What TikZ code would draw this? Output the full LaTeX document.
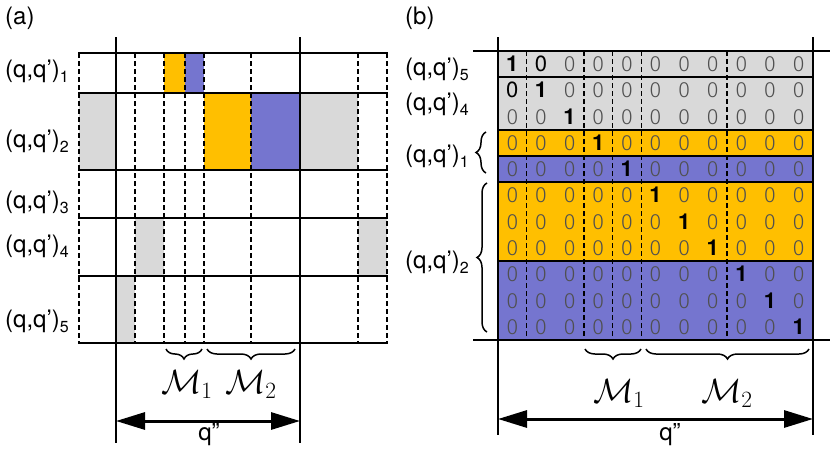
\documentclass[tikz,border=0pt]{standalone}
\usepackage{graphicx}
\usepackage{fontspec}
\setmainfont{TeX Gyre Heros}
\IfFontExistsTF{Fira Sans Light}{\newfontfamily\zfont{Fira Sans Light}}{\newfontfamily\zfont{TeX Gyre Heros}}
\usetikzlibrary{arrows.meta,decorations.pathreplacing}
\definecolor{orng}{RGB}{255,191,0}
\definecolor{purp}{RGB}{117,117,207}
\definecolor{lgray}{RGB}{217,217,217}
\definecolor{zgray}{RGB}{80,80,80}
\newcommand\sbs[1]{\raisebox{-5pt}{\fontsize{16}{18}\selectfont #1}}
\newcommand\mlab[1]{\scalebox{1.35}{$\mathcal{M}_{#1}$}}
\tikzset{
  thickline/.style={line width=2.6pt},
  rowline/.style={line width=2.2pt},
  rowlineb/.style={line width=2pt},
  dashline/.style={line width=1.3pt, dash pattern=on 5pt off 3pt},
  lbl/.style={font=\fontsize{24}{28}\selectfont, inner sep=0pt, anchor=base west},
  mlbl/.style={font=\fontsize{24}{28}\selectfont, inner sep=0pt, anchor=base},
  brc/.style={decorate, decoration={brace, amplitude=10pt}, line width=1.5pt},
  dimarrow/.style={line width=3pt, {Triangle[length=29pt,width=17pt]}-{Triangle[length=29pt,width=17pt]}},
  dig/.style={font=\fontsize{22}{26}\selectfont, inner sep=0pt, anchor=base},
}
\begin{document}
\begin{tikzpicture}[x=1pt,y=-1pt]
\useasboundingbox (0,0) rectangle (830,450);
% ================= panel (a) =================
\fill[orng] (164,53) rectangle (185,93);
\fill[purp] (185,53) rectangle (204,93);
\fill[lgray] (79,93) rectangle (116,170);
\fill[orng] (204,93) rectangle (251,170);
\fill[purp] (251,93) rectangle (300,170);
\fill[lgray] (300,93) rectangle (358,170);
\fill[lgray] (135,218) rectangle (164,276);
\fill[lgray] (358,218) rectangle (387,276);
\fill[lgray] (116,276) rectangle (135,343);
\foreach \x in {79,135,164,185,204,251,358,387}
  \draw[dashline] (\x,53) -- (\x,343);
\foreach \y in {53,93,170,218,276,343}
  \draw[rowline] (78,\y) -- (388,\y);
\draw[thickline] (116,37) -- (116,443);
\draw[thickline] (300,37) -- (300,443);
\node[lbl] (la) at (5,24) {(a)};
\node[lbl] (ra1) at (5,77) {(q,q')\sbs{1}};
\node[lbl] (ra2) at (5,147) {(q,q')\sbs{2}};
\node[lbl] (ra3) at (5,208) {(q,q')\sbs{3}};
\node[lbl] (ra4) at (5,252) {(q,q')\sbs{4}};
\node[lbl] (ra5) at (5,327) {(q,q')\sbs{5}};
\draw[brc] (202,349) -- (166,349);
\draw[brc] (295,349) -- (207,349);
\node[mlbl] (m1a) at (187,393) {\mlab{1}};
\node[mlbl] (m2a) at (251,393) {\mlab{2}};
\coordinate (aL) at (116,421);
\coordinate (aR) at (300,421);
\draw[dimarrow] (aL) -- (aR);
\node[mlbl] (qa) at (209,440) {q''};
% ================= panel (b) =================
\foreach \r/\c in {0/lgray,1/lgray,2/lgray,3/orng,4/purp,5/orng,6/orng,7/orng,8/purp,9/purp,10/purp}
  \fill[\c] (498,{51+\r*26.27}) rectangle (813,{51+(\r+1)*26.27});
\foreach \k in {1,3,4,5,8}
  \draw[dashline] ({498+\k*28.636},51) -- ({498+\k*28.636},340);
\foreach \r in {1,3,4,5,8}
  \draw[rowlineb] (498,{51+\r*26.27}) -- (813,{51+\r*26.27});
\draw[rowlineb] (473,51) -- (830,51);
\draw[rowlineb] (473,340) -- (830,340);
\draw[rowlineb] (498,37) -- (498,435);
\draw[rowlineb] (813,37) -- (813,435);
\foreach \r in {0,...,10}{
  \foreach \c in {0,...,10}{
    \pgfmathtruncatemacro\kind{(\r==\c) ? 1 : ((\r+\c==1) ? 2 : 0)}
    \ifcase\kind
      \node[dig,font=\fontsize{22}{26}\zfont,text=zgray] (d\r-\c) at ({512.3+\c*28.636},{51+(\r+0.5)*26.27+7.5}) {0};
    \or
      \node[dig,font=\fontsize{22}{26}\selectfont\bfseries] (d\r-\c) at ({512.3+\c*28.636},{51+(\r+0.5)*26.27+7.5}) {1};
    \or
      \node[dig] (d\r-\c) at ({512.3+\c*28.636},{51+(\r+0.5)*26.27+7.5}) {0};
    \fi
  }
}
\node[lbl] (lb) at (405,24) {(b)};
\node[lbl] (rb5) at (405,75) {(q,q')\sbs{5}};
\node[lbl] (rb4) at (405,110) {(q,q')\sbs{4}};
\node[lbl] (rb1) at (405,162) {(q,q')\sbs{1}};
\node[lbl] (rb2) at (405,268) {(q,q')\sbs{2}};
\draw[brc] (486,173) -- (486,132);
\draw[brc] (487,332) -- (487,183);
\draw[brc] (641,349) -- (585,349);
\draw[brc] (809,349) -- (646,349);
\node[mlbl] (m1b) at (619,402) {\mlab{1}};
\node[mlbl] (m2b) at (727,402) {\mlab{2}};
\coordinate (bL) at (498,419);
\coordinate (bR) at (813,419);
\draw[dimarrow] (bL) -- (bR);
\node[mlbl] (qb) at (670,440) {q''};
\end{tikzpicture}
\end{document}
